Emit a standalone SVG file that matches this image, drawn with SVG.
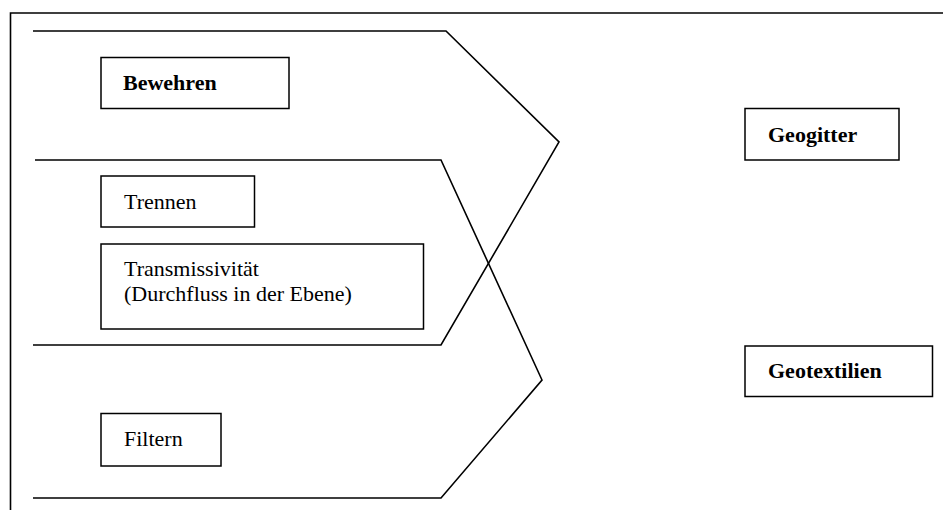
<svg xmlns="http://www.w3.org/2000/svg" width="943" height="510" viewBox="0 0 943 510">
<style>
.box{fill:#fff;stroke:#000;stroke-width:1.5}
.ln{fill:none;stroke:#000;stroke-width:1.6;stroke-linejoin:miter}
.t{font-family:"Liberation Serif","Times New Roman",serif;font-size:22px;fill:#000}
.b{font-weight:bold}
</style>
<rect width="943" height="510" fill="#fff"/>
<path class="ln" d="M10.5,520 V13 H950"/>
<g id="connectors">
<polyline class="ln" points="33,31 446,31 559,142 441,345 33,345"/>
<polyline class="ln" points="35,160 441,160 542,380 441,498 33,498"/>
</g>
<g id="bewehren">
<rect class="box" x="101" y="57.5" width="188" height="51"/>
<text class="t b" x="123" y="90">Bewehren</text>
</g>
<g id="trennen">
<rect class="box" x="101" y="176" width="153.5" height="51"/>
<text class="t" x="124" y="209">Trennen</text>
</g>
<g id="transmissivitaet">
<rect class="box" x="101" y="244" width="322.5" height="85"/>
<text class="t" x="124" y="276">Transmissivität</text>
<text class="t" x="124" y="301">(Durchfluss in der Ebene)</text>
</g>
<g id="filtern">
<rect class="box" x="101" y="413.5" width="120" height="52.5"/>
<text class="t" x="124" y="446">Filtern</text>
</g>
<g id="geogitter">
<rect class="box" x="745" y="108.5" width="154" height="51.5"/>
<text class="t b" x="768" y="141.5">Geogitter</text>
</g>
<g id="geotextilien">
<rect class="box" x="745" y="346" width="187.5" height="50.5"/>
<text class="t b" x="768" y="378">Geotextilien</text>
</g>
</svg>
